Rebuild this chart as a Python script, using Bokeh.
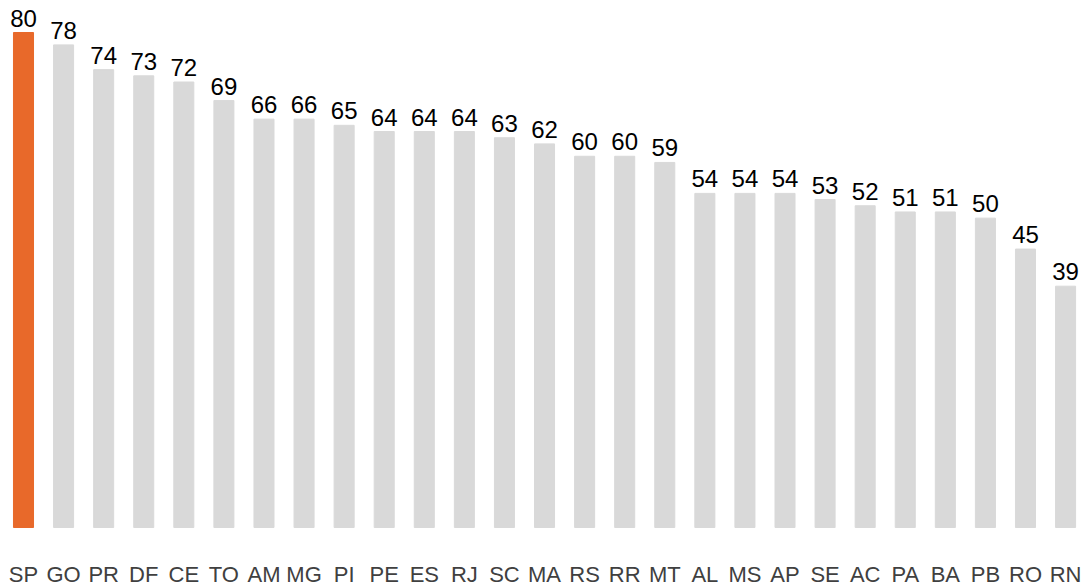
from bokeh.plotting import figure
from bokeh.models import ColumnDataSource, Range1d
from bokeh.core.properties import value
from bokeh.embed import file_html
from bokeh.resources import INLINE

states = ["SP", "GO", "PR", "DF", "CE", "TO", "AM", "MG", "PI", "PE", "ES", "RJ", "SC", "MA",
          "RS", "RR", "MT", "AL", "MS", "AP", "SE", "AC", "PA", "BA", "PB", "RO", "RN"]
values = [80, 78, 74, 73, 72, 69, 66, 66, 65, 64, 64, 64, 63, 62,
          60, 60, 59, 54, 54, 54, 53, 52, 51, 51, 50, 45, 39]
highlight = "SP"

W, H = 1082, 587
px_per_x = 40.08
px_per_y = 6.1875
base_y = 527
left_px = 23

x = list(range(len(states)))
colors = ["#E8692A" if s == highlight else "#D9D9D9" for s in states]
src = ColumnDataSource(dict(x=x, top=values, color=colors, state=states,
                            label=[str(v) for v in values], zero=[0] * len(values)))

p = figure(width=W, height=H, output_backend="svg", toolbar_location=None,
           x_range=Range1d(-left_px / px_per_x, (W - left_px) / px_per_x),
           y_range=Range1d(-(H - base_y) / px_per_y, base_y / px_per_y),
           min_border=0, outline_line_color=None)
p.axis.visible = False
p.grid.visible = False
p.background_fill_color = "white"
p.border_fill_color = "white"

p.vbar(x="x", top="top", bottom=0, width=0.5, color="color", source=src)
p.text(x="x", y="top", text="label", source=src, text_align="center",
       text_baseline="bottom", y_offset=-6, text_font=value("Liberation Sans"),
       text_font_size="24px", text_color="black")
p.text(x="x", y="zero", text="state", source=src, text_align="center",
       text_baseline="middle", y_offset=47, text_font=value("Liberation Sans"),
       text_font_size="22px", text_color="#404040")

open("out.html", "w").write(file_html(p, INLINE))
